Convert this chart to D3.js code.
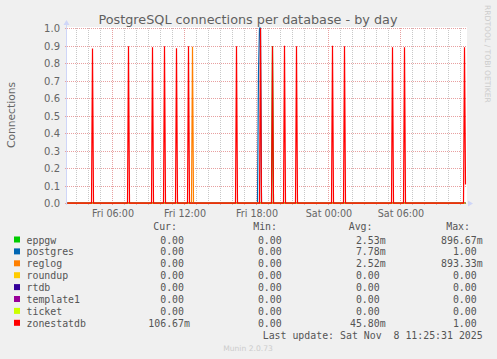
<!DOCTYPE html>
<html><head><meta charset="utf-8">
<script src="https://cdn.jsdelivr.net/npm/d3@7"></script>
<style>
html,body{margin:0;padding:0;background:#f0f0f0;}
svg{display:block;}
text{font-family:"DejaVu Sans",sans-serif;}
.mono{font-family:"DejaVu Sans Mono",monospace;}
</style></head><body>
<svg id="chart" width="497" height="359"></svg>
<script>
// ---------- DATA ----------
const chartTitle = "PostgreSQL connections per database - by day";
const yAxisLabel = "Connections";
const watermark = "RRDTOOL / TOBI OETIKER";
const footer = "Munin 2.0.73";
const lastUpdate = "Last update: Sat Nov  8 11:25:31 2025";

const seriesNames = ["eppgw","postgres","reglog","roundup","rtdb","template1","ticket","zonestatdb"];
const seriesColors = ["#00cc00","#0066b3","#ff8000","#ffcc00","#330099","#990099","#ccff00","#ff0000"];

const yTickValues = [0,0.1,0.2,0.3,0.4,0.5,0.6,0.7,0.8,0.9,1.0];
const xTickLabels = ["Fri 06:00","Fri 12:00","Fri 18:00","Sat 00:00","Sat 06:00"];
const timeStart = "Fri 02:15";
const timeEnd = "Sat 11:35";

// samples (5-minute resolution) [time, connections]
const eppgw = [["Fri 02:15",0],["Fri 19:15",0],["Fri 19:20",0.8967],["Fri 19:25",0],["Sat 11:25",0]];
const postgres = [["Fri 02:15",0],["Fri 18:05",0],["Fri 18:10",0.75],["Fri 18:15",1.0],["Fri 18:20",1.0],["Fri 18:25",0],["Sat 11:25",0]];
const reglog = [["Fri 02:15",0],["Fri 12:35",0],["Fri 12:40",0.8933],["Fri 12:45",0],["Sat 11:25",0]];
const roundup = [["Fri 02:15",0],["Sat 11:25",0]];
const rtdb = [["Fri 02:15",0],["Sat 11:25",0]];
const template1 = [["Fri 02:15",0],["Sat 11:25",0]];
const ticket = [["Fri 02:15",0],["Sat 11:25",0]];
const zonestatdb = [
  ["Fri 02:15",0],
  ["Fri 04:15",0],["Fri 04:20",0.884],["Fri 04:25",0],
  ["Fri 07:15",0],["Fri 07:20",0.897],["Fri 07:25",0],
  ["Fri 09:15",0],["Fri 09:20",0.891],["Fri 09:25",0],
  ["Fri 10:15",0],["Fri 10:20",0.897],["Fri 10:25",0],
  ["Fri 11:15",0],["Fri 11:20",0.886],["Fri 11:25",0],
  ["Fri 12:15",0],["Fri 12:20",0.897],["Fri 12:25",0],
  ["Fri 16:15",0],["Fri 16:20",0.897],["Fri 16:25",0],
  ["Fri 18:15",0],["Fri 18:20",1.0],["Fri 18:25",0],
  ["Fri 19:15",0],["Fri 19:20",0.897],["Fri 19:25",0],
  ["Fri 20:15",0],["Fri 20:20",0.900],["Fri 20:25",0],
  ["Fri 21:15",0],["Fri 21:20",0.897],["Fri 21:25",0],
  ["Sat 00:15",0],["Sat 00:20",0.900],["Sat 00:25",0],
  ["Sat 01:15",0],["Sat 01:20",0.897],["Sat 01:25",0],
  ["Sat 05:15",0],["Sat 05:20",0.891],["Sat 05:25",0],
  ["Sat 06:15",0],["Sat 06:20",0.891],["Sat 06:25",0],
  ["Sat 11:15",0],["Sat 11:20",0.891],["Sat 11:25",0.1067]
];
const seriesData = [eppgw, postgres, reglog, roundup, rtdb, template1, ticket, zonestatdb];

const legendHeaders = ["Cur:","Min:","Avg:","Max:"];
const legendCur = ["0.00","0.00","0.00","0.00","0.00","0.00","0.00","106.67m"];
const legendMin = ["0.00","0.00","0.00","0.00","0.00","0.00","0.00","0.00"];
const legendAvg = ["2.53m","7.78m","2.52m","0.00","0.00","0.00","0.00","45.80m"];
const legendMax = ["896.67m","1.00","893.33m","0.00","0.00","0.00","0.00","1.00"];

// ---------- HELPERS ----------
function parseT(s){
  const [day, hm] = s.split(" ");
  const [h, m] = hm.split(":").map(Number);
  return new Date(2025, 10, day === "Fri" ? 7 : 8, h, m);
}

// ---------- LAYOUT ----------
const svg = d3.select("#chart");
const plotL = 67, plotR = 467, plotT = 28, plotB = 203;
const textCol = "#666666";

const x = d3.scaleTime().domain([parseT(timeStart), parseT(timeEnd)]).range([plotL, plotR]);
const y = d3.scaleLinear().domain([0,1]).range([plotB, plotT]);

// canvas
svg.append("rect").attr("x", plotL).attr("y", plotT - 1).attr("width", plotR - plotL).attr("height", plotB - plotT + 1).attr("fill", "#ffffff");

// minor vertical grid (hourly)
const hours = x.ticks(d3.timeHour.every(1));
const majorTimes = xTickLabels.map(parseT);
const isMajor = d => majorTimes.some(m => +m === +d);
const grid = svg.append("g");
hours.filter(d => !isMajor(d)).forEach(d => {
  const px = Math.round(x(d)) + 0.5;
  grid.append("line").attr("x1", px).attr("x2", px).attr("y1", plotT).attr("y2", plotB + 2)
    .attr("stroke", "#c8c8c8").attr("stroke-dasharray", "1,1");
});
// horizontal major grid
yTickValues.forEach(v => {
  const py = Math.round(y(v)) + 0.5;
  grid.append("line").attr("x1", plotL - 2).attr("x2", plotR).attr("y1", py).attr("y2", py)
    .attr("stroke", "#e8a0a0").attr("stroke-dasharray", "1,1");
});
// vertical major grid
majorTimes.forEach(d => {
  const px = Math.round(x(d)) + 0.5;
  grid.append("line").attr("x1", px).attr("x2", px).attr("y1", plotT).attr("y2", plotB + 3)
    .attr("stroke", "#e8a0a0").attr("stroke-dasharray", "1,1");
});

// axes (labels via d3 axes)
const yAxis = d3.axisLeft(y).tickValues(yTickValues).tickFormat(d3.format(".1f")).tickSize(0).tickPadding(7);
const gy = svg.append("g").attr("transform", `translate(${plotL},0.5)`).call(yAxis);
gy.select(".domain").remove();
gy.selectAll("text").attr("fill", textCol).style("font-size", "10px").style("font-family", "DejaVu Sans");

const xAxis = d3.axisBottom(x).tickValues(majorTimes).tickFormat(d3.timeFormat("%a %H:%M")).tickSize(0).tickPadding(7);
const gx = svg.append("g").attr("transform", `translate(0.5,${plotB})`).call(xAxis);
gx.select(".domain").remove();
gx.selectAll("text").attr("fill", textCol).style("font-size", "9.6px").style("font-family", "DejaVu Sans");

// series lines
const line = d3.line().x(d => x(parseT(d[0])) + 0.5).y(d => y(d[1]) + 0.2);
const lines = svg.append("g");
seriesData.forEach((s, i) => {
  lines.append("path").attr("d", line(s)).attr("fill", "none")
    .attr("stroke", seriesColors[i]).attr("stroke-width", 1.2).attr("stroke-linejoin", "miter").attr("stroke-miterlimit", 2);
});

// axis lines with arrows
const axCol = "#cfd6f8";
svg.append("line").attr("x1", plotL - 0.5).attr("x2", plotL - 0.5).attr("y1", plotB + 2).attr("y2", plotT - 4).attr("stroke", axCol);
svg.append("path").attr("d", `M${plotL-3.5},${plotT-3} L${plotL+2.5},${plotT-3} L${plotL-0.5},${plotT-8} Z`).attr("fill", axCol);
svg.append("path").attr("d", `M${plotR+1},${plotB-2.5} L${plotR+1},${plotB+3.5} L${plotR+6},${plotB+0.5} Z`).attr("fill", axCol);

// title
svg.append("text").attr("x", 248).attr("y", 23.5).attr("text-anchor", "middle")
  .attr("fill", "#606060").style("font-size", "12.8px").text(chartTitle);
// y label
svg.append("text").attr("transform", "translate(15,115) rotate(-90)").attr("text-anchor", "middle")
  .attr("fill", textCol).style("font-size", "10.7px").text(yAxisLabel);
// watermark
svg.append("text").attr("transform", "translate(485,5) rotate(90)").attr("text-anchor", "start")
  .attr("fill", "#cccccc").style("font-size", "7.6px").text(watermark);

// legend
const legend = svg.append("g").attr("class", "mono");
const colNumEnd = [184, 281.7, 379.7, 476.7];
const headerEnd = [177, 277, 372.5, 470];
const rowY0 = 240, rowStep = 11.9;
legendHeaders.forEach((h, j) => {
  legend.append("text").attr("class", "mono").attr("x", headerEnd[j]).attr("y", 226.7 + 3.5)
    .attr("text-anchor", "end").attr("fill", "#555").style("font-size", "9.9px").text(h);
});
const cols = [legendCur, legendMin, legendAvg, legendMax];
seriesNames.forEach((n, i) => {
  const cy = rowY0 + i * rowStep;
  legend.append("rect").attr("x", 14).attr("y", cy - 3.5).attr("width", 6).attr("height", 6).attr("fill", seriesColors[i]);
  legend.append("text").attr("class", "mono").attr("x", 26.5).attr("y", cy + 3.5)
    .attr("fill", "#555").style("font-size", "9.9px").text(n);
  cols.forEach((col, j) => {
    const v = col[i];
    const hasSuffix = /[a-zA-Z]$/.test(v);
    const num = hasSuffix ? v.slice(0, -1) : v;
    legend.append("text").attr("class", "mono").attr("x", colNumEnd[j]).attr("y", cy + 3.5)
      .attr("text-anchor", "end").attr("fill", "#555").style("font-size", "9.9px").text(num);
    if (hasSuffix) {
      legend.append("text").attr("class", "mono").attr("x", colNumEnd[j]).attr("y", cy + 3.5)
        .attr("fill", "#555").style("font-size", "9.9px").text(v.slice(-1));
    }
  });
});
legend.append("text").attr("class", "mono").attr("x", 482.7).attr("y", 335.3 + 3.5)
  .attr("text-anchor", "end").attr("fill", "#555").style("font-size", "9.9px")
  .style("white-space", "pre").attr("xml:space", "preserve").text(lastUpdate);
svg.append("text").attr("x", 248).attr("y", 348.3 + 3).attr("text-anchor", "middle")
  .attr("fill", "#cccccc").style("font-size", "7.6px").text(footer);
</script>
</body></html>
